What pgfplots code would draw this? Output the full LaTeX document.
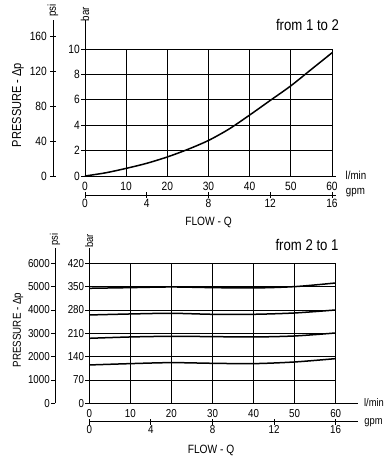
\documentclass[border=0pt]{standalone}
\usepackage{fontspec}
\setmainfont[FakeStretch=0.85]{Liberation Sans}
\usepackage{pgfplots}
\pgfplotsset{compat=1.18}
\begin{document}
\begin{tikzpicture}[x=1pt,y=1pt]
\useasboundingbox (0,0) rectangle (388,462);
\pgfplotsset{
 base/.style={scale only axis, clip=false,
   /pgf/number format/assume math mode=true,
   /pgf/number format/1000 sep={},
   ticklabel style={font=\fontsize{12}{13}\selectfont, inner sep=1pt},
   axis line style={-, line width=0.8pt, black},
   tick style={black, line width=0.8pt}},
 main/.style={base, axis x line*=bottom, axis y line*=left,
   grid=major, grid style={black, line width=0.8pt},
   xtick style={draw=none}, tick align=outside, major tick length=4pt,
   xticklabel style={yshift=-1pt}},
 psiax/.style={base, width=10pt, xmin=0, xmax=1, ymin=0,
   axis y line*=left, hide x axis},
 gpmax/.style={base, height=10pt, ymin=0, ymax=1, axis x line*=bottom,
   hide y axis, xtick={0,4,...,16}, tick align=center, major tick length=6pt},
}
% ================= TOP CHART =================
\begin{axis}[main, at={(85pt,286pt)}, anchor=south west, width=247pt, height=127pt,
  xmin=0, xmax=60, ymin=0, ymax=10, xtick={0,10,...,60}, ytick={0,2,...,10}]
\addplot[black, line width=1.5pt, smooth] coordinates {
 (0,0) (5,0.25) (10,0.6) (15,1.0) (20,1.5) (25,2.1) (30,2.8) (35,3.7)
 (40,4.8) (45,5.95) (50,7.1) (55,8.4) (60,9.7)};
\draw[line width=0.8pt] (axis cs:0,10) -- (axis cs:0,12.28);
\draw[line width=0.8pt] (axis cs:60,0) -- (axis cs:61,0);
\node[rotate=90, anchor=west, inner sep=0pt, xshift=-3pt, font=\fontsize{11.5}{12}\selectfont] at (axis cs:0,12.4) {bar};
\end{axis}
\begin{axis}[psiax, at={(53pt,286pt)}, anchor=south west, height=156pt, ymax=178.3,
  ytick={0,40,...,160}, tick align=center, major tick length=6pt,
  yticklabel style={xshift=-2pt}]
\addplot[draw=none] coordinates {(0,0)};
\node[rotate=90, anchor=west, inner sep=0pt, font=\fontsize{11.5}{12}\selectfont] at (axis cs:0,182) {psi};
\end{axis}
\begin{axis}[gpmax, at={(85pt,267pt)}, anchor=south west, width=251pt, xmin=0, xmax=16.26]
\addplot[draw=none] coordinates {(0,0)};
\end{axis}
\node[font=\fontsize{11.5}{12}\selectfont] at (356,286.3) {l/min};
\node[font=\fontsize{11.5}{12}\selectfont] at (355.5,269) {gpm};
\node[font=\fontsize{12}{14}\selectfont] at (208.5,240) {FLOW - Q};
\node[font=\fontsize{15.5}{17}\selectfont] at (307.5,437) {from 1 to 2};
\node[rotate=90, font=\fontsize{13}{14}\selectfont] at (18,357) {PRESSURE - Δp};
% ================= BOTTOM CHART =================
\begin{axis}[main, at={(89.3pt,58.7pt)}, anchor=south west, width=246.4pt, height=140pt,
  xmin=0, xmax=60, ymin=0, ymax=420, xtick={0,10,...,60}, ytick={0,70,...,420},
  ticklabel style={font=\fontsize{11.5}{12}\selectfont}]
\addplot[black, line width=1.5pt, smooth] coordinates {
 (0,345) (10,347) (20,349) (30,347) (40,346) (50,350) (60,361)};
\addplot[black, line width=1.5pt, smooth] coordinates {
 (0,265) (10,268) (20,270) (30,267) (40,267) (50,271) (60,280)};
\addplot[black, line width=1.5pt, smooth] coordinates {
 (0,195) (10,199) (20,201) (30,200) (40,199) (50,202) (60,211)};
\addplot[black, line width=1.5pt, smooth] coordinates {
 (0,115) (10,119) (20,122) (30,120) (40,119) (50,124) (60,134)};
\draw[line width=0.8pt] (axis cs:0,420) -- (axis cs:0,466);
\draw[line width=0.8pt] (axis cs:60,0) -- (axis cs:65.4,0);
\node[rotate=90, anchor=west, inner sep=0pt, xshift=-2pt, font=\fontsize{11}{12}\selectfont] at (axis cs:0,472) {bar};
\end{axis}
\begin{axis}[psiax, at={(55pt,58.7pt)}, anchor=south west, height=155.3pt, ymax=6657,
  ytick={0,1000,...,6000}, tick align=outside, major tick length=4pt,
  ticklabel style={font=\fontsize{11.5}{12}\selectfont}]
\addplot[draw=none] coordinates {(0,0)};
\node[rotate=90, anchor=west, inner sep=0pt, font=\fontsize{11}{12}\selectfont] at (axis cs:0,6750) {psi};
\end{axis}
\begin{axis}[gpmax, at={(89.3pt,40.3pt)}, anchor=south west, width=268.7pt, xmin=0, xmax=17.45,
  ticklabel style={font=\fontsize{11.5}{12}\selectfont}]
\addplot[draw=none] coordinates {(0,0)};
\end{axis}
\node[font=\fontsize{11}{12}\selectfont] at (374,59) {l/min};
\node[font=\fontsize{11}{12}\selectfont] at (373.5,39) {gpm};
\node[font=\fontsize{12}{14}\selectfont] at (211,12) {FLOW - Q};
\node[font=\fontsize{15.5}{17}\selectfont] at (307,217) {from 2 to 1};
\node[rotate=90, font=\fontsize{11.5}{13}\selectfont] at (18,132) {PRESSURE - Δp};
\end{tikzpicture}
\end{document}
